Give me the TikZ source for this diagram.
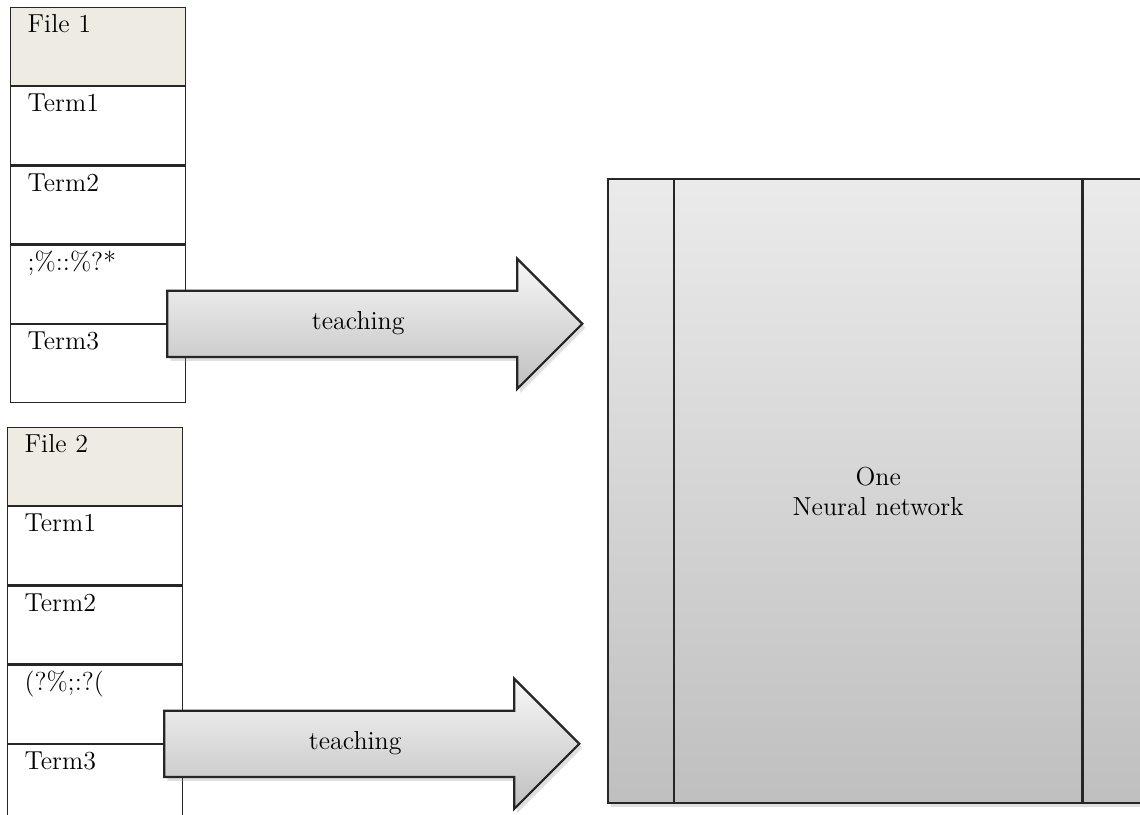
\documentclass[tikz,border=0pt]{standalone}
\usepackage{fontspec}
\usetikzlibrary{positioning, shapes.arrows, shadows}

\definecolor{headbeige}{RGB}{238,236,226}

\begin{document}
\begin{tikzpicture}[x=0.5pt, y=-0.5pt]
		\tikzset{
			cell/.style={rectangle, draw=black!85, line width=0.6pt, fill=white, text width=70.5pt, inner xsep=8.5pt, inner ysep=3pt, text height=9.5pt, text depth=23.5pt, align=left, font=\fontsize{13}{15}\selectfont},
			header/.style={cell, fill=headbeige},
			teacharrow/.style={single arrow, draw=black!85, line width=1.1pt, top color=gray!6, bottom color=gray!50, minimum height=207.5pt, text height=9pt, text depth=3pt, inner ysep=10pt, inner xsep=2pt, single arrow head extend=16pt, font=\fontsize{13}{15}\selectfont, drop shadow={shadow xshift=1.5pt, shadow yshift=-2pt, opacity=0.25}},
			network/.style={rectangle, draw=black!85, line width=1.2pt, top color=gray!16, bottom color=gray!50, minimum width=270pt, minimum height=312pt, inner sep=0pt, align=center, font=\fontsize{13}{15}\selectfont, drop shadow={shadow xshift=1.5pt, shadow yshift=-2pt, opacity=0.25}},
			netline/.style={draw=black!85, line width=1.2pt}
		}
		\useasboundingbox (0,0) rectangle (1140,814);
		\clip (0,0) rectangle (1140,814);

		% first file
		\node[header, anchor=north west] (file1) at (10,7) {File 1};
		\node[cell, below=0pt of file1] (f1t1) {Term1};
		\node[cell, below=0pt of f1t1] (f1t2) {Term2};
		\node[cell, below=0pt of f1t2] (f1sym) {;\%::\%?*};
		\node[cell, below=0pt of f1sym] (f1t3) {Term3};

		% second file
		\node[header, anchor=north west] (file2) at (7,427) {File 2};
		\node[cell, below=0pt of file2] (f2t1) {Term1};
		\node[cell, below=0pt of f2t1] (f2t2) {Term2};
		\node[cell, below=0pt of f2t2] (f2sym) {(?\%;:?(};
		\node[cell, below=0pt of f2sym] (f2t3) {Term3};

		\node[network, anchor=north west] (net) at (607,178) {One\\Neural network};
		\draw[netline] ([xshift=33.5pt]net.north west) -- ([xshift=33.5pt]net.south west);
		\draw[netline] ([xshift=-33.5pt]net.north east) -- ([xshift=-33.5pt]net.south east);

		\node[teacharrow, anchor=tail] (teach1) at ([xshift=-10pt]f1t3.north east) {teaching};
		\node[teacharrow, anchor=tail] (teach2) at ([xshift=-10pt]f2t3.north east) {teaching};
	\end{tikzpicture}
\end{document}
